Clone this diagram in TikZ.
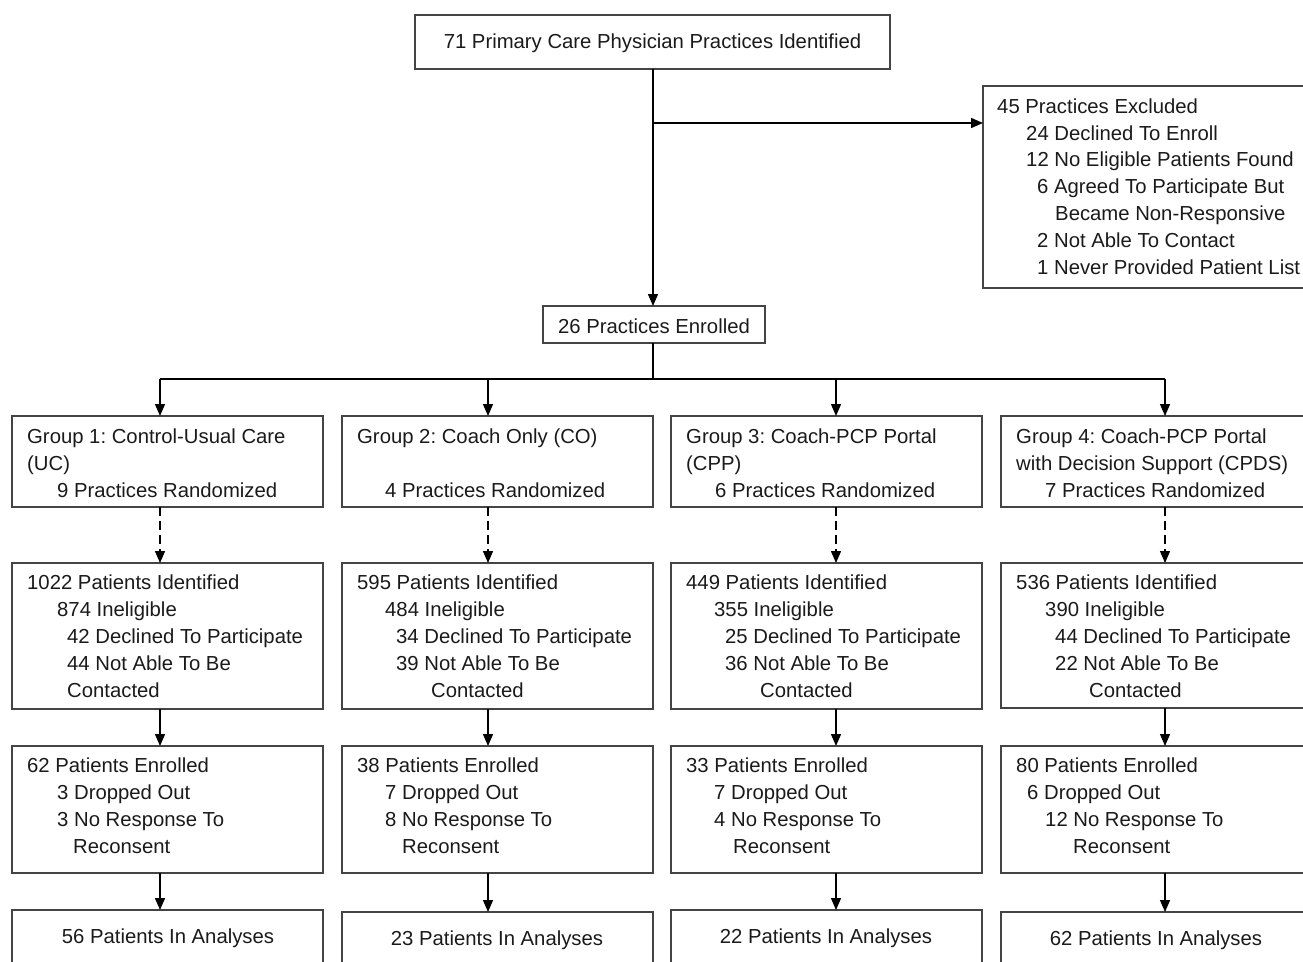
\documentclass[tikz,border=0pt]{standalone}
\usepackage{fontspec}
\setmainfont{Liberation Sans}
\usetikzlibrary{arrows.meta}
\definecolor{boxgray}{HTML}{444444}
\definecolor{txtc}{HTML}{1A1A1A}
\frenchspacing
\begin{document}
\begin{tikzpicture}[x=1pt,y=-1pt,
  every node/.style={font={\fontsize{20.3}{26.8}\selectfont\frenchspacing},text=txtc},
  box/.style={draw=boxgray,line width=1.1pt,rectangle,inner sep=0pt,outer sep=0pt,anchor=north west},
  txt/.style={inner sep=0pt,align=left,anchor=base west},
  ctxt/.style={inner sep=0pt,anchor=base},
  conn/.style={line width=1.4pt,draw=black},
  arr/.style={conn,-{Triangle[length=12pt,width=10pt]}},
  darr/.style={arr,dash pattern=on 9pt off 5pt}]
\useasboundingbox (0,0) rectangle (1303,961);
% top
\node[box,anchor=center,minimum width=475pt,minimum height=54pt,text height=16pt,text depth=4pt] (top) at (652.5,42) {71 Primary Care Physician Practices Identified};
\node[box,minimum width=329pt,minimum height=202pt] (excl) at (983,86) {};
% (base anchor of a multi-line node = baseline of its last line)
\node[txt] (exclt) at (997,274) {45 Practices Excluded\\
\hspace*{29pt}24 Declined To Enroll\\
\hspace*{29pt}12 No Eligible Patients Found\\
\hspace*{40pt}6 Agreed To Participate But\\
\hspace*{58pt}Became Non-Responsive\\
\hspace*{40pt}2 Not Able To Contact\\
\hspace*{40pt}1 Never Provided Patient List};
\node[box,anchor=center,minimum width=222pt,minimum height=37pt,text height=21pt,text depth=4pt] (enr) at (654,324.5) {26 Practices Enrolled};
\coordinate (br) at (653,123);
\draw[arr] (top.south -| br) -- (enr.north -| br);
\draw[arr] (br) -- (br -| excl.west);
% column arrow x positions
\coordinate (c1) at (160,379);
\coordinate (c2) at (488,379);
\coordinate (c3) at (836,379);
\coordinate (c4) at (1165,379);
% row 1
\node[box,minimum width=311pt,minimum height=91pt] (g1) at (12,416) {};
\node[box,minimum width=311pt,minimum height=91pt] (g2) at (342,416) {};
\node[box,minimum width=311pt,minimum height=91pt] (g3) at (671,416) {};
\node[box,minimum width=311pt,minimum height=91pt] (g4) at (1001,416) {};
\node[txt] (g1t) at (27,497) {Group 1: Control-Usual Care\\(UC)\\\hspace*{30pt}9 Practices Randomized};
\node[txt] (g2t) at (357,497) {Group 2: Coach Only (CO)\\\mbox{}\\\hspace*{28pt}4 Practices Randomized};
\node[txt] (g3t) at (686,497) {Group 3: Coach-PCP Portal\\(CPP)\\\hspace*{29pt}6 Practices Randomized};
\node[txt] (g4t) at (1016,497) {Group 4: Coach-PCP Portal\\with Decision Support (CPDS)\\\hspace*{29pt}7 Practices Randomized};
\draw[conn] (enr.south -| br) -- (br |- c1);
\draw[conn] (c1) -- (c4);
\foreach \c/\g in {c1/g1,c2/g2,c3/g3,c4/g4}{
  \draw[arr] (\c) -- (\c |- \g.north);
}
% row 2
\node[box,minimum width=311pt,minimum height=146pt] (p1) at (12,563) {};
\node[box,minimum width=311pt,minimum height=146pt] (p2) at (342,563) {};
\node[box,minimum width=311pt,minimum height=146pt] (p3) at (671,563) {};
\node[box,minimum width=311pt,minimum height=145pt] (p4) at (1001,563) {};
\node[txt] (p1t) at (27,697) {1022 Patients Identified\\\hspace*{30pt}874 Ineligible\\\hspace*{40pt}42 Declined To Participate\\\hspace*{40pt}44 Not Able To Be\\\hspace*{40pt}Contacted};
\node[txt] (p2t) at (357,697) {595 Patients Identified\\\hspace*{28pt}484 Ineligible\\\hspace*{39pt}34 Declined To Participate\\\hspace*{39pt}39 Not Able To Be\\\hspace*{74pt}Contacted};
\node[txt] (p3t) at (686,697) {449 Patients Identified\\\hspace*{28pt}355 Ineligible\\\hspace*{39pt}25 Declined To Participate\\\hspace*{39pt}36 Not Able To Be\\\hspace*{74pt}Contacted};
\node[txt] (p4t) at (1016,697) {536 Patients Identified\\\hspace*{29pt}390 Ineligible\\\hspace*{39pt}44 Declined To Participate\\\hspace*{39pt}22 Not Able To Be\\\hspace*{73pt}Contacted};
\foreach \c/\g/\h in {c1/g1/p1,c2/g2/p2,c3/g3/p3,c4/g4/p4}{
  \draw[darr] (\c |- \g.south) -- (\c |- \h.north);
}
% row 3
\node[box,minimum width=311pt,minimum height=127pt] (e1) at (12,746) {};
\node[box,minimum width=311pt,minimum height=127pt] (e2) at (342,746) {};
\node[box,minimum width=311pt,minimum height=127pt] (e3) at (671,746) {};
\node[box,minimum width=311pt,minimum height=127pt] (e4) at (1001,746) {};
\node[txt] (e1t) at (27,853) {62 Patients Enrolled\\\hspace*{30pt}3 Dropped Out\\\hspace*{30pt}3 No Response To\\\hspace*{46pt}Reconsent};
\node[txt] (e2t) at (357,853) {38 Patients Enrolled\\\hspace*{28pt}7 Dropped Out\\\hspace*{28pt}8 No Response To\\\hspace*{45pt}Reconsent};
\node[txt] (e3t) at (686,853) {33 Patients Enrolled\\\hspace*{28pt}7 Dropped Out\\\hspace*{28pt}4 No Response To\\\hspace*{47pt}Reconsent};
\node[txt] (e4t) at (1016,853) {80 Patients Enrolled\\\hspace*{11pt}6 Dropped Out\\\hspace*{29pt}12 No Response To\\\hspace*{57pt}Reconsent};
\foreach \c/\g/\h in {c1/p1/e1,c2/p2/e2,c3/p3/e3,c4/p4/e4}{
  \draw[arr] (\c |- \g.south) -- (\c |- \h.north);
}
% row 4
\node[box,minimum width=311pt,minimum height=70pt] (a1) at (12,910) {};
\node[box,minimum width=311pt,minimum height=70pt] (a2) at (342,912) {};
\node[box,minimum width=311pt,minimum height=70pt] (a3) at (671,910) {};
\node[box,minimum width=311pt,minimum height=70pt] (a4) at (1001,912) {};
\node[ctxt] (a1t) at (168,943) {56 Patients In Analyses};
\node[ctxt] (a2t) at (497,945) {23 Patients In Analyses};
\node[ctxt] (a3t) at (826,943) {22 Patients In Analyses};
\node[ctxt] (a4t) at (1156,945) {62 Patients In Analyses};
\foreach \c/\g/\h in {c1/e1/a1,c2/e2/a2,c3/e3/a3,c4/e4/a4}{
  \draw[arr] (\c |- \g.south) -- (\c |- \h.north);
}
\end{tikzpicture}
\end{document}
